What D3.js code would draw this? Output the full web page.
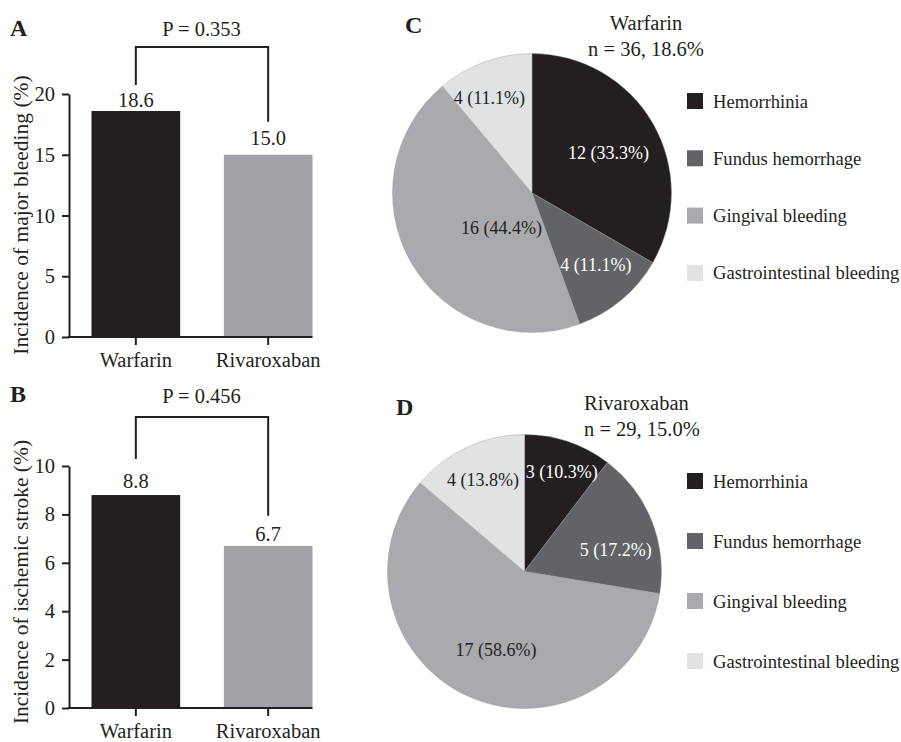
<!DOCTYPE html>
<html>
<head>
<meta charset="utf-8">
<script src="https://cdn.jsdelivr.net/npm/d3@7"></script>
<style>
  body { margin: 0; background: #fff; }
  svg { display: block; }
  text { font-family: "Liberation Serif", "Times New Roman", serif; fill: #231f20; }
</style>
</head>
<body>
<svg id="chart" width="901" height="742"></svg>
<script>
// --- data ---
const barCategories = ['Warfarin', 'Rivaroxaban'];
const majorBleeding = [18.6, 15.0];
const ischemicStroke = [8.8, 6.7];
const pValues = ['P = 0.353', 'P = 0.456'];
const ticksMajor = [0, 5, 10, 15, 20];
const ticksStroke = [0, 2, 4, 6, 8, 10];

const bleedTypes = ['Hemorrhinia', 'Fundus hemorrhage', 'Gingival bleeding', 'Gastrointestinal bleeding'];
const warfarinCounts = [12, 4, 16, 4];
const rivaroxabanCounts = [3, 5, 17, 4];

// --- style ---
const INK = '#231f20';
const barColors = [INK, '#a2a3a6'];
const sliceColors = ['#231f20', '#626366', '#a9aaad', '#e1e2e4'];
const sliceTextColors = ['#fff', '#fff', '#231f20', '#231f20'];

const svg = d3.select('#chart');

function barPanel(cfg) {
  const g = svg.append('g');
  const y = d3.scaleLinear().domain([0, cfg.yMax]).range([cfg.y0, cfg.y1]);
  const x = d3.scaleBand().domain(barCategories).range([69, 335])
    .paddingInner(0.33).paddingOuter(0.17);

  g.selectAll('rect.bar').data(cfg.values).join('rect')
    .attr('x', (d, i) => x(barCategories[i]))
    .attr('y', d => y(d))
    .attr('width', x.bandwidth())
    .attr('height', d => y(0) - y(d))
    .attr('fill', (d, i) => barColors[i]);

  // y axis
  const ya = g.append('g').attr('transform', 'translate(69,0)')
    .call(d3.axisLeft(y).tickValues(cfg.ticks).tickSize(7).tickSizeOuter(0).tickPadding(7));
  ya.select('.domain').attr('stroke', INK).attr('stroke-width', 2);
  ya.selectAll('.tick line').attr('stroke', INK).attr('stroke-width', 2);
  ya.selectAll('.tick text').attr('font-size', 20.5).attr('font-family', 'Liberation Serif').attr('fill', INK);

  // x axis
  const xa = g.append('g').attr('transform', `translate(0,${cfg.y0})`)
    .call(d3.axisBottom(x).tickSize(8).tickSizeOuter(0).tickPadding(7));
  const xEnd = x(barCategories[1]) + x.bandwidth();
  xa.select('.domain').attr('d', `M68,0H${xEnd}`).attr('stroke', INK).attr('stroke-width', 2);
  xa.selectAll('.tick line').attr('stroke', INK).attr('stroke-width', 2);
  xa.selectAll('.tick text').attr('font-size', 20.5).attr('font-family', 'Liberation Serif').attr('fill', INK);

  // value labels
  g.selectAll('text.val').data(cfg.values).join('text')
    .attr('x', (d, i) => x(barCategories[i]) + x.bandwidth() / 2)
    .attr('y', (d, i) => y(d) - cfg.labelGap[i])
    .attr('text-anchor', 'middle').attr('font-size', 20.5)
    .text(d => d.toFixed(1));

  // significance bracket
  const cx = barCategories.map(c => x(c) + x.bandwidth() / 2);
  const leg = cfg.values.map((d, i) => y(d) - cfg.legGap[i]);
  g.append('path')
    .attr('d', `M${cx[0]},${leg[0]}V${cfg.bracketTop}H${cx[1]}V${leg[1]}`)
    .attr('fill', 'none').attr('stroke', INK).attr('stroke-width', 2);
  g.append('text').attr('x', (cx[0] + cx[1]) / 2 - 0.5).attr('y', cfg.pY)
    .attr('text-anchor', 'middle').attr('font-size', 20.5).text(cfg.p);

  // y title
  g.append('text')
    .attr('transform', `translate(28,${cfg.titleY}) rotate(-90)`)
    .attr('text-anchor', 'middle').attr('font-size', 21.5).text(cfg.yTitle);

  g.append('text').attr('x', 10).attr('y', cfg.letterY)
    .attr('font-size', 24).attr('font-weight', 'bold').text(cfg.letter);
}

barPanel({
  letter: 'A', letterY: 36, values: majorBleeding, yMax: 20, ticks: ticksMajor,
  y0: 337, y1: 94, labelGap: [4, 10], legGap: [26, 33], bracketTop: 47, pY: 36,
  p: pValues[0], yTitle: 'Incidence of major bleeding (%)', titleY: 215
});
barPanel({
  letter: 'B', letterY: 402, values: ischemicStroke, yMax: 10, ticks: ticksStroke,
  y0: 708, y1: 466, labelGap: [7, 5], legGap: [36, 30], bracketTop: 417, pY: 403,
  p: pValues[1], yTitle: 'Incidence of ischemic stroke (%)', titleY: 582
});

function piePanel(cfg) {
  const g = svg.append('g');
  const total = d3.sum(cfg.counts);
  const pie = d3.pie().sort(null)(cfg.counts);
  const arc = d3.arc().innerRadius(0).outerRadius(cfg.r);
  const labelArc = d3.arc().innerRadius(cfg.r * 0.6).outerRadius(cfg.r * 0.6);

  const pg = g.append('g').attr('transform', `translate(${cfg.cx},${cfg.cy})`);
  pg.selectAll('path').data(pie).join('path')
    .attr('d', arc)
    .attr('fill', (d, i) => sliceColors[i])
    .attr('stroke', '#9a9b9e').attr('stroke-width', 0.4);

  pg.selectAll('text').data(pie).join('text')
    .attr('x', (d, i) => labelArc.centroid(d)[0] + cfg.nudge[i][0])
    .attr('y', (d, i) => labelArc.centroid(d)[1] + cfg.nudge[i][1])
    .attr('dy', '0.35em').attr('text-anchor', 'middle').attr('font-size', 18)
    .style('fill', (d, i) => sliceTextColors[i])
    .text(d => `${d.data} (${(d.data / total * 100).toFixed(1)}%)`);

  // title
  g.append('text').attr('x', cfg.titleX).attr('y', cfg.titleY)
    .attr('text-anchor', cfg.titleAnchor).attr('font-size', 20.5).text(cfg.title);
  g.append('text').attr('x', cfg.titleX).attr('y', cfg.titleY + 26)
    .attr('text-anchor', cfg.titleAnchor).attr('font-size', 20.5)
    .text(`n = ${total}, ${cfg.rate.toFixed(1)}%`);

  // legend
  const lg = g.selectAll('g.leg').data(bleedTypes).join('g')
    .attr('transform', (d, i) => `translate(687,${cfg.legY + i * cfg.legStep})`);
  lg.append('rect').attr('x', 0).attr('y', -8).attr('width', 16).attr('height', 16)
    .attr('fill', (d, i) => sliceColors[i]);
  lg.append('text').attr('x', 26).attr('dy', '0.35em').attr('font-size', 18.6).text(d => d);

  g.append('text').attr('x', cfg.letterX).attr('y', cfg.letterY)
    .attr('font-size', 24).attr('font-weight', 'bold').text(cfg.letter);
}

piePanel({
  letter: 'C', letterX: 405, letterY: 33, counts: warfarinCounts, rate: majorBleeding[0],
  cx: 532, cy: 193, r: 139.5, title: 'Warfarin', titleX: 646, titleY: 30, titleAnchor: 'middle',
  nudge: [[4, 2], [10, 8], [42, -7], [-14, -17]], legY: 101, legStep: 57.3
});
piePanel({
  letter: 'D', letterX: 396, letterY: 415, counts: rivaroxabanCounts, rate: majorBleeding[1],
  cx: 524.5, cy: 571.5, r: 137, title: 'Rivaroxaban', titleX: 584, titleY: 410, titleAnchor: 'start',
  nudge: [[11, -22], [15, 9], [6, 4], [-7, -17]], legY: 481, legStep: 60
});
</script>
</body>
</html>
